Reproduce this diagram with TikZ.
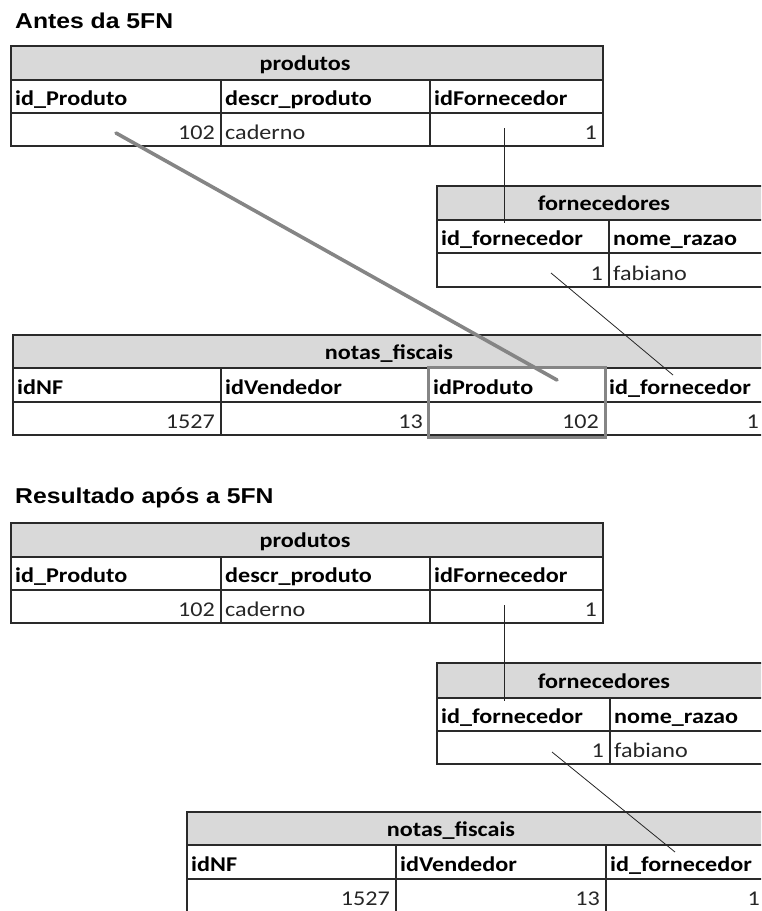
\documentclass[tikz,border=0pt]{standalone}
\usepackage{fontspec}
\newfontfamily\cellfont[FakeStretch=1.15]{Carlito}
\newfontfamily\titlefont[FakeStretch=1.15]{Liberation Sans}
\definecolor{hdrgray}{HTML}{D9D9D9}
\definecolor{gridline}{HTML}{2A2A2A}
\definecolor{linkgray}{HTML}{858585}
\begin{document}
\begin{tikzpicture}[x=1pt,y=-1pt,
  hdr/.style={font=\cellfont\bfseries\fontsize{21}{25}\selectfont, anchor=base, inner sep=0pt},
  colname/.style={font=\cellfont\bfseries\fontsize{21}{25}\selectfont, anchor=base west, inner sep=0pt},
  valR/.style={font=\cellfont\fontsize{21}{25}\selectfont, anchor=base east, inner sep=0pt, text=black!85},
  valL/.style={font=\cellfont\fontsize{21}{25}\selectfont, anchor=base west, inner sep=0pt, text=black!85},
  titletext/.style={font=\titlefont\bfseries\fontsize{21.5}{26}\selectfont, anchor=base west, inner sep=0pt},
  gridlines/.style={draw=gridline, line width=1.3pt},
  hdrfill/.style={fill=hdrgray},
  fklink/.style={draw=black!85, line width=0.8pt},
  hilite/.style={draw=linkgray, line width=3pt},
  biglink/.style={draw=linkgray, line width=3.6pt, line cap=round}]
\useasboundingbox (0,0) rectangle (761,911);
\begin{scope}
\clip (0,0) rectangle (761,911);

% ---------------- before 5NF ----------------
\node[titletext] (t1) at (15,28) {Antes da 5FN};

% produtos
\fill[hdrfill] (11,46) rectangle (603,80);
\draw[gridlines] (11,46) rectangle (603,146)
  (11,80) -- (603,80) (11,113) -- (603,113)
  (221,80) -- (221,146) (430,80) -- (430,146);
\node[hdr] (p1h) at (305,70) {produtos};
\node[colname] (p1c1) at (15,105) {id\_Produto};
\node[colname] (p1c2) at (225,105) {descr\_produto};
\node[colname] (p1c3) at (434,105) {idFornecedor};
\node[valR] (p1v1) at (215,139) {102};
\node[valL] (p1v2) at (225,139) {caderno};
\node[valR] (p1v3) at (597,139) {1};

% fornecedores
\fill[hdrfill] (437,186) rectangle (772,220);
\draw[gridlines] (437,186) rectangle (772,287)
  (437,220) -- (772,220) (437,253) -- (772,253)
  (609,220) -- (609,287);
\node[hdr] (f1h) at (604,210) {fornecedores};
\node[colname] (f1c1) at (441,245) {id\_fornecedor};
\node[colname] (f1c2) at (613,245) {nome\_razao};
\node[valR] (f1v1) at (603,280) {1};
\node[valL] (f1v2) at (613,280) {fabiano};

% notas_fiscais
\fill[hdrfill] (13,335) rectangle (765,368);
\draw[gridlines] (13,335) rectangle (765,435)
  (13,368) -- (765,368) (13,402) -- (765,402)
  (221,368) -- (221,435) (429,368) -- (429,435) (605,368) -- (605,435);
\node[hdr] (n1h) at (389,359) {notas\_fiscais};
\node[colname] (n1c1) at (17,394) {idNF};
\node[colname] (n1c2) at (225,394) {idVendedor};
\node[colname] (n1c3) at (433,394) {idProduto};
\node[colname] (n1c4) at (609,394) {id\_fornecedor};
\node[valR] (n1v1) at (215,428) {1527};
\node[valR] (n1v2) at (423,428) {13};
\node[valR] (n1v3) at (599,428) {102};
\node[valR] (n1v4) at (759,428) {1};

% highlighted idProduto column
\draw[hilite] (428,367) rectangle (605,437);

% links
\coordinate (k1a) at (504,128);
\coordinate (k1b) at (504,223);
\draw[fklink] (k1a) -- (k1b);
\coordinate (k2a) at (551,273);
\coordinate (k2b) at (673,375);
\draw[fklink] (k2a) -- (k2b);
\coordinate (k3a) at (116,133);
\coordinate (k3b) at (557,380);
\draw[biglink] (k3a) -- (k3b);

% ---------------- after 5NF ----------------
\node[titletext] (t2) at (15,503) {Resultado após a 5FN};

% produtos
\fill[hdrfill] (11,523) rectangle (603,557);
\draw[gridlines] (11,523) rectangle (603,623)
  (11,557) -- (603,557) (11,590) -- (603,590)
  (221,557) -- (221,623) (430,557) -- (430,623);
\node[hdr] (p2h) at (305,547) {produtos};
\node[colname] (p2c1) at (15,582) {id\_Produto};
\node[colname] (p2c2) at (225,582) {descr\_produto};
\node[colname] (p2c3) at (434,582) {idFornecedor};
\node[valR] (p2v1) at (215,616) {102};
\node[valL] (p2v2) at (225,616) {caderno};
\node[valR] (p2v3) at (597,616) {1};

% fornecedores
\fill[hdrfill] (437,663) rectangle (772,698);
\draw[gridlines] (437,663) rectangle (772,764)
  (437,698) -- (772,698) (437,731) -- (772,731)
  (610,698) -- (610,764);
\node[hdr] (f2h) at (604,688) {fornecedores};
\node[colname] (f2c1) at (441,723) {id\_fornecedor};
\node[colname] (f2c2) at (614,723) {nome\_razao};
\node[valR] (f2v1) at (604,757) {1};
\node[valL] (f2v2) at (614,757) {fabiano};

% notas_fiscais
\fill[hdrfill] (187,812) rectangle (780,845);
\draw[gridlines] (187,812) rectangle (780,920)
  (187,845) -- (780,845) (187,879) -- (780,879)
  (396,845) -- (396,920) (606,845) -- (606,920);
\node[hdr] (n2h) at (451,836) {notas\_fiscais};
\node[colname] (n2c1) at (191,871) {idNF};
\node[colname] (n2c2) at (400,871) {idVendedor};
\node[colname] (n2c3) at (610,871) {id\_fornecedor};
\node[valR] (n2v1) at (390,905) {1527};
\node[valR] (n2v2) at (600,905) {13};
\node[valR] (n2v3) at (760,905) {1};

% links
\coordinate (k4a) at (504,605);
\coordinate (k4b) at (504,701);
\draw[fklink] (k4a) -- (k4b);
\coordinate (k5a) at (552,752);
\coordinate (k5b) at (675,852);
\draw[fklink] (k5a) -- (k5b);
\end{scope}
\end{tikzpicture}
\end{document}
